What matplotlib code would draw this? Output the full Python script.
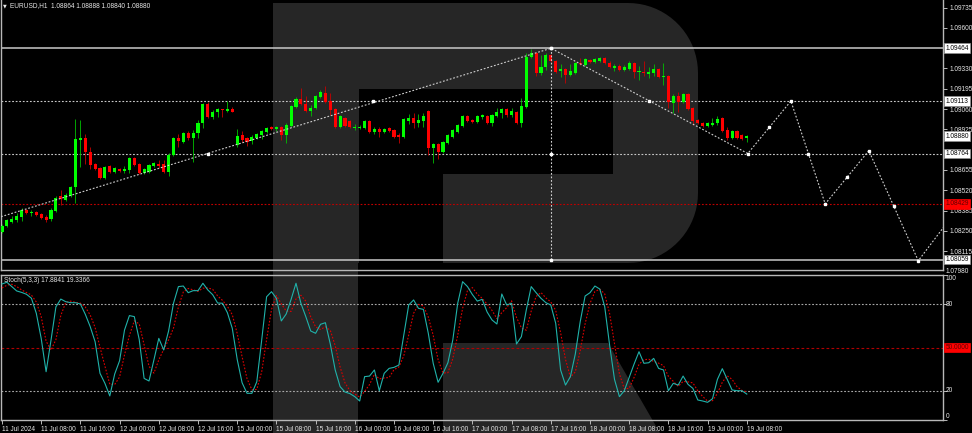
# -*- coding: utf-8 -*-

import numpy as np
import matplotlib.pyplot as plt
import matplotlib.transforms as mtransforms
from matplotlib.patches import Polygon, Rectangle

plt.rcParams['font.family'] = ['Liberation Sans', 'DejaVu Sans']

# ---------------------------- data ---------------------------- #

# EURUSD H1, one bar per hour, bar 0 = 11 Jul 2024 00:00
opens = [1.08242, 1.08282, 1.08309, 1.08322, 1.08342, 1.08388, 1.08369, 1.08375, 1.08362, 1.08342,
         1.08329, 1.08382, 1.08481, 1.08455, 1.08481, 1.08541, 1.08854, 1.08868, 1.08774, 1.08694,
         1.08668, 1.08601, 1.08681, 1.08641, 1.08661, 1.08648, 1.08655, 1.08734, 1.08694, 1.08635,
         1.08641, 1.08681, 1.08694, 1.08694, 1.08641, 1.08754, 1.08868, 1.08841, 1.08901, 1.08868,
         1.08901, 1.08967, 1.09093, 1.09007, 1.09040, 1.09060, 1.09047, 1.09060, 1.08821, 1.08887,
         1.08868, 1.08848, 1.08868, 1.08887, 1.08907, 1.08941, 1.08927, 1.08941, 1.08887, 1.08947,
         1.09073, 1.09127, 1.09093, 1.09047, 1.09067, 1.09140, 1.09167, 1.09113, 1.09060, 1.08941,
         1.09000, 1.08980, 1.08934, 1.08934, 1.08934, 1.08980, 1.08907, 1.08927, 1.08907, 1.08934,
         1.08921, 1.08887, 1.08874, 1.08980, 1.09000, 1.08967, 1.08980, 1.09047, 1.08801, 1.08828,
         1.08774, 1.08834, 1.08874, 1.08907, 1.08947, 1.09014, 1.08987, 1.08974, 1.09007, 1.09014,
         1.08967, 1.09014, 1.09034, 1.09060, 1.09020, 1.09040, 1.08967, 1.09073, 1.09406, 1.09433,
         1.09300, 1.09339, 1.09419, 1.09379, 1.09313, 1.09326, 1.09286, 1.09300, 1.09366, 1.09353,
         1.09386, 1.09373, 1.09379, 1.09399, 1.09366, 1.09333, 1.09346, 1.09320, 1.09326, 1.09366,
         1.09306, 1.09306, 1.09293, 1.09300, 1.09326, 1.09273, 1.09280, 1.09100, 1.09147, 1.09107,
         1.09160, 1.09067, 1.08987, 1.08967, 1.08947, 1.08954, 1.08967, 1.09000, 1.08921, 1.08868,
         1.08914, 1.08887, 1.08864]
highs = [1.08295, 1.08329, 1.08349, 1.08369, 1.08402, 1.08395, 1.08388, 1.08382, 1.08369, 1.08355,
         1.08402, 1.08481, 1.08521, 1.08501, 1.08548, 1.08994, 1.08987, 1.08894, 1.08808, 1.08701,
         1.08674, 1.08681, 1.08688, 1.08674, 1.08668, 1.08681, 1.08741, 1.08741, 1.08701, 1.08668,
         1.08694, 1.08708, 1.08721, 1.08721, 1.08768, 1.08874, 1.08894, 1.08907, 1.08914, 1.08921,
         1.08987, 1.09100, 1.09107, 1.09054, 1.09067, 1.09060, 1.09113, 1.09073, 1.08927, 1.08914,
         1.08874, 1.08887, 1.08901, 1.08921, 1.08941, 1.08947, 1.08947, 1.08947, 1.08967, 1.09087,
         1.09140, 1.09200, 1.09147, 1.09087, 1.09153, 1.09186, 1.09213, 1.09167, 1.09067, 1.09020,
         1.09007, 1.08987, 1.08961, 1.08954, 1.08987, 1.08987, 1.08941, 1.08941, 1.08934, 1.08941,
         1.08927, 1.08901, 1.09000, 1.09027, 1.09034, 1.09027, 1.09034, 1.09054, 1.08834, 1.08834,
         1.08848, 1.08894, 1.08927, 1.08961, 1.09020, 1.09020, 1.08994, 1.09020, 1.09027, 1.09020,
         1.09027, 1.09067, 1.09067, 1.09067, 1.09067, 1.09047, 1.09133, 1.09433, 1.09462, 1.09439,
         1.09419, 1.09433, 1.09426, 1.09386, 1.09359, 1.09333, 1.09359, 1.09373, 1.09399, 1.09399,
         1.09393, 1.09399, 1.09406, 1.09406, 1.09379, 1.09359, 1.09359, 1.09353, 1.09379, 1.09373,
         1.09346, 1.09379, 1.09339, 1.09359, 1.09333, 1.09366, 1.09286, 1.09160, 1.09173, 1.09167,
         1.09167, 1.09073, 1.08994, 1.08974, 1.08974, 1.09000, 1.09014, 1.09007, 1.08941, 1.08921,
         1.08921, 1.08894, 1.08888]
lows = [1.08236, 1.08275, 1.08302, 1.08309, 1.08315, 1.08362, 1.08349, 1.08349, 1.08329, 1.08309,
        1.08315, 1.08375, 1.08422, 1.08448, 1.08475, 1.08435, 1.08674, 1.08694, 1.08661, 1.08655,
        1.08595, 1.08595, 1.08635, 1.08635, 1.08641, 1.08635, 1.08635, 1.08681, 1.08628, 1.08628,
        1.08635, 1.08674, 1.08668, 1.08635, 1.08615, 1.08748, 1.08808, 1.08834, 1.08854, 1.08708,
        1.08868, 1.08934, 1.09000, 1.08994, 1.09007, 1.09007, 1.09040, 1.09040, 1.08808, 1.08841,
        1.08814, 1.08828, 1.08861, 1.08861, 1.08901, 1.08921, 1.08914, 1.08854, 1.08834, 1.08941,
        1.09067, 1.09087, 1.09040, 1.09014, 1.09060, 1.09133, 1.09100, 1.09020, 1.08934, 1.08934,
        1.08941, 1.08934, 1.08921, 1.08927, 1.08927, 1.08901, 1.08894, 1.08874, 1.08901, 1.08907,
        1.08868, 1.08834, 1.08868, 1.08961, 1.08934, 1.08941, 1.08941, 1.08754, 1.08701, 1.08728,
        1.08768, 1.08828, 1.08868, 1.08901, 1.08941, 1.08974, 1.08967, 1.08967, 1.08994, 1.08961,
        1.08947, 1.09007, 1.09000, 1.09007, 1.09007, 1.08961, 1.08941, 1.09067, 1.09399, 1.09280,
        1.09286, 1.09320, 1.09373, 1.09300, 1.09273, 1.09233, 1.09280, 1.09293, 1.09353, 1.09346,
        1.09366, 1.09366, 1.09373, 1.09359, 1.09333, 1.09313, 1.09313, 1.09313, 1.09320, 1.09266,
        1.09253, 1.09280, 1.09266, 1.09280, 1.09266, 1.09220, 1.09067, 1.09034, 1.09040, 1.09100,
        1.09054, 1.08954, 1.08961, 1.08941, 1.08941, 1.08947, 1.08954, 1.08907, 1.08854, 1.08861,
        1.08861, 1.08854, 1.08840]
closes = [1.08282, 1.08322, 1.08329, 1.08349, 1.08388, 1.08369, 1.08375, 1.08355, 1.08335, 1.08322,
          1.08388, 1.08468, 1.08462, 1.08488, 1.08541, 1.08861, 1.08868, 1.08774, 1.08688, 1.08661,
          1.08601, 1.08674, 1.08641, 1.08668, 1.08648, 1.08661, 1.08734, 1.08688, 1.08635, 1.08661,
          1.08688, 1.08701, 1.08681, 1.08641, 1.08754, 1.08868, 1.08848, 1.08901, 1.08868, 1.08901,
          1.08967, 1.09093, 1.09007, 1.09040, 1.09060, 1.09054, 1.09060, 1.09040, 1.08881, 1.08854,
          1.08841, 1.08874, 1.08894, 1.08914, 1.08934, 1.08927, 1.08941, 1.08887, 1.08954, 1.09080,
          1.09127, 1.09093, 1.09047, 1.09067, 1.09147, 1.09173, 1.09107, 1.09054, 1.08941, 1.09014,
          1.08947, 1.08941, 1.08941, 1.08941, 1.08980, 1.08907, 1.08927, 1.08907, 1.08927, 1.08914,
          1.08874, 1.08874, 1.08994, 1.09000, 1.08967, 1.08987, 1.09014, 1.08801, 1.08828, 1.08774,
          1.08841, 1.08887, 1.08921, 1.08954, 1.09014, 1.08980, 1.08974, 1.09014, 1.09020, 1.08967,
          1.09020, 1.09040, 1.09060, 1.09020, 1.09047, 1.08967, 1.09080, 1.09406, 1.09433, 1.09300,
          1.09339, 1.09419, 1.09379, 1.09306, 1.09326, 1.09286, 1.09313, 1.09366, 1.09359, 1.09393,
          1.09373, 1.09393, 1.09399, 1.09366, 1.09339, 1.09346, 1.09320, 1.09339, 1.09366, 1.09306,
          1.09313, 1.09300, 1.09306, 1.09326, 1.09273, 1.09280, 1.09107, 1.09147, 1.09107, 1.09160,
          1.09060, 1.08980, 1.08967, 1.08947, 1.08967, 1.08967, 1.08994, 1.08914, 1.08868, 1.08914,
          1.08868, 1.08861, 1.08880]

stoch_main = [93.8, 95.0, 92.0, 89.0, 88.0, 86.7, 84.0, 73.6, 56.3, 33.3,
              55.0, 78.0, 83.4, 81.6, 80.9, 80.9, 80.0, 72.9, 64.4, 54.0,
              32.2, 25.3, 16.6, 31.7, 40.9, 62.0, 72.0, 71.3, 55.6, 28.7,
              26.9, 41.4, 56.3, 48.3, 61.4, 80.5, 92.0, 92.4, 87.8, 89.2,
              89.2, 94.3, 89.7, 86.4, 80.7, 80.5, 74.0, 63.2, 41.8, 25.7,
              18.4, 18.4, 26.4, 55.2, 85.0, 88.5, 83.9, 68.3, 73.1, 83.2,
              94.3, 80.5, 71.3, 61.4, 59.8, 66.0, 67.1, 52.4, 34.5, 23.0,
              19.3, 18.2, 16.1, 13.1, 29.9, 30.3, 34.5, 20.2, 32.2, 35.6,
              36.3, 37.9, 58.6, 79.3, 82.8, 77.0, 76.3, 59.8, 39.1, 26.0,
              32.2, 39.5, 55.2, 80.5, 95.4, 92.0, 86.5, 82.0, 83.2, 74.5,
              69.0, 66.2, 86.9, 79.3, 80.5, 52.4, 57.5, 75.9, 92.0, 87.8,
              83.9, 80.9, 79.3, 66.7, 34.5, 24.1, 29.9, 45.5, 67.8, 85.5,
              87.8, 92.4, 90.3, 78.2, 51.7, 28.0, 16.1, 20.2, 29.4, 38.6,
              47.1, 39.1, 39.5, 42.5, 35.6, 34.5, 20.2, 25.3, 24.1, 30.3,
              24.6, 21.8, 13.8, 13.1, 12.2, 14.7, 28.0, 35.4, 28.0, 20.7,
              20.2, 20.2, 17.88]
stoch_signal = [91.0, 93.0, 93.6, 92.0, 89.7, 87.9, 86.2, 81.4, 71.3, 54.4,
                48.2, 55.4, 72.1, 81.0, 82.0, 81.1, 80.6, 77.9, 72.4, 63.8,
                50.2, 37.2, 24.7, 24.5, 29.7, 44.9, 58.3, 68.4, 66.3, 51.9,
                37.1, 32.3, 41.5, 48.7, 55.3, 63.4, 78.0, 88.3, 90.7, 89.8,
                88.7, 90.9, 91.1, 90.1, 85.6, 82.5, 78.4, 72.6, 59.7, 43.6,
                28.6, 20.8, 21.1, 33.3, 55.5, 76.2, 85.8, 80.2, 75.1, 74.9,
                83.5, 86.0, 82.0, 71.1, 64.2, 62.4, 64.3, 61.8, 51.3, 36.6,
                25.6, 20.2, 17.9, 15.8, 19.7, 24.4, 31.6, 28.3, 29.0, 29.3,
                34.7, 36.6, 44.3, 58.6, 73.6, 79.7, 78.7, 71.0, 58.4, 41.6,
                32.4, 32.6, 42.3, 58.4, 77.0, 89.3, 91.3, 86.8, 83.9, 79.9,
                75.6, 69.9, 74.0, 77.5, 82.2, 70.7, 63.5, 61.9, 75.1, 85.2,
                87.9, 84.2, 81.4, 75.6, 60.2, 41.8, 29.5, 33.2, 47.7, 66.3,
                80.4, 88.6, 90.2, 87.0, 73.4, 52.6, 31.9, 21.4, 21.9, 29.4,
                38.4, 41.6, 41.9, 40.4, 39.2, 37.5, 30.1, 26.7, 23.2, 26.6,
                26.3, 25.6, 20.1, 16.2, 13.0, 13.3, 18.3, 26.0, 30.5, 28.0,
                23.0, 20.4, 19.34]

time_ticks = [0, 8, 16, 24, 32, 40, 48, 56, 64, 72,
              80, 88, 96, 104, 112, 120, 128, 136, 144, 152]
time_labels = ['11 Jul 2024', '11 Jul 08:00', '11 Jul 16:00', '12 Jul 00:00', '12 Jul 08:00',
               '12 Jul 16:00', '15 Jul 00:00', '15 Jul 08:00', '15 Jul 16:00', '16 Jul 00:00',
               '16 Jul 08:00', '16 Jul 16:00', '17 Jul 00:00', '17 Jul 08:00', '17 Jul 16:00',
               '18 Jul 00:00', '18 Jul 08:00', '18 Jul 16:00', '19 Jul 00:00', '19 Jul 08:00']

price_ticks = [1.09735, 1.09600, 1.09330, 1.09195, 1.09060, 1.08925,
               1.08655, 1.08520, 1.08385, 1.08250, 1.08115]
price_bottom_label = 1.07980

# horizontal levels drawn on the chart
level_solid = [1.09464, 1.08059]
level_dotted = [1.09113, 1.08764]
level_red = 1.08429
current_price = 1.08880

# trend lines + forecast zigzag (bar index, price)
path_idx = [-0.2, 112.04, 152.2, 161.0, 168.0, 176.9, 187.0, 193.5]
path_price = [1.08344, 1.09464, 1.08764, 1.09113, 1.08429, 1.08783, 1.08051, 1.08332]
node_idx = [42.0, 75.7, 112.04, 132.0, 152.2, 156.6, 161.0, 164.5, 168.0, 172.5, 176.9, 182.0, 187.0]
node_price = [1.08764, 1.09113, 1.09464, 1.09113, 1.08764, 1.08938, 1.09113, 1.08764,
              1.08429, 1.08608, 1.08783, 1.08417, 1.08051]
vline_idx = 112.04
vline_nodes = [1.09464, 1.08764, 1.08059]

stoch_levels = [80, 20]

# ---------------------------- layout ---------------------------- #

W, H = 972, 433
BG = '#000000'
LOGO = '#262626'
AXC = '#b8b8b8'
TXT = '#e8e8e8'
FS = 4.7


def frac(x0, y0, x1, y1):
    return [x0 / W, 1 - y1 / H, (x1 - x0) / W, (y1 - y0) / H]


fig = plt.figure(figsize=(W / 100, H / 100), dpi=100, facecolor=BG)

# background logo
bg = fig.add_axes([0, 0, 1, 1])
bg.set_xlim(0, W)
bg.set_ylim(H, 0)
bg.axis('off')
r = 70
t1 = np.linspace(-np.pi / 2, 0, 20)
t2 = np.linspace(0, np.pi / 2, 20)
bowl = [(273, 3)]
bowl += list(zip(628 + r * np.cos(t1), 73 + r * np.sin(t1)))
bowl += list(zip(628 + r * np.cos(t2), 193 + r * np.sin(t2)))
bowl += [(273, 263)]
bg.add_patch(Polygon(bowl, closed=True, fc=LOGO, ec='none'))
bg.add_patch(Rectangle((359, 89), 254, 85, fc=BG, ec='none'))
bg.add_patch(Rectangle((359, 174), 84, 90, fc=BG, ec='none'))
bg.add_patch(Rectangle((273, 3), 85, 430, fc=LOGO, ec='none'))
bg.add_patch(Polygon([(443, 343), (608, 343), (660, 433), (443, 433)], closed=True, fc=LOGO, ec='none'))

# bar index -> pixel: x = 2 + 4.9 * i
x_lo, x_hi = -1 / 4.9, 941 / 4.9

ax = fig.add_axes(frac(1, 0, 943, 270))
ax.set_facecolor('none')
ax.set_xlim(x_lo, x_hi)
ax.set_ylim(1.09785 - 0.0000665 * 270, 1.09785)

ax2 = fig.add_axes(frac(1, 275, 943, 420))
ax2.set_facecolor('none')
ax2.set_xlim(x_lo, x_hi)
ax2.set_ylim(0, 100)

for a in (ax, ax2):
    for s in a.spines.values():
        s.set_color(AXC)
        s.set_linewidth(1.0)
ax.spines['top'].set_visible(False)

# ---------------------------- candles ---------------------------- #

idx = np.arange(len(closes))
o = np.array(opens)
c = np.array(closes)
hi = np.array(highs)
lo = np.array(lows)
up = c >= o
body_c = np.where(up, '#00ff00', '#ff0000')
wick_c = np.where(up, '#00c000', '#c80000')
ax.vlines(idx, lo, hi, colors=wick_c, lw=0.6, zorder=3)
body = np.maximum(np.abs(c - o), 0.00006)
ax.bar(idx, body, bottom=np.minimum(o, c), width=0.62, color=body_c, lw=0, zorder=4)

# levels
for p in level_solid:
    ax.axhline(p, color='#c8c8c8', lw=1.1, zorder=2)
for p in level_dotted:
    ax.axhline(p, color='#c8c8c8', lw=0.8, ls=(0, (1.6, 1.6)), zorder=2)
ax.axhline(level_red, color='#c00000', lw=0.8, ls=(0, (1.6, 1.6)), zorder=2)

ax.plot(path_idx, path_price, color='#d0d0d0', lw=0.8, ls=(0, (1.6, 1.6)), zorder=5)
ax.plot([vline_idx, vline_idx], [vline_nodes[0], vline_nodes[-1]], color='#d0d0d0',
        lw=0.8, ls=(0, (1.6, 1.6)), zorder=5)
ax.plot(node_idx, node_price, ls='none', marker='s', ms=2.0, color='white', zorder=6)
ax.plot([vline_idx] * len(vline_nodes), vline_nodes, ls='none', marker='s', ms=2.0,
        color='white', zorder=6)

# price axis
ax.set_xticks([])
ax.yaxis.tick_right()
ax.set_yticks(price_ticks)
ax.set_yticklabels(['%.5f' % p for p in price_ticks])
ax.tick_params(axis='y', colors=AXC, labelcolor=TXT, length=3, width=0.7, pad=1.5, labelsize=FS)

ytr = mtransforms.blended_transform_factory(ax.transAxes, ax.transData)
bx = 1 + 2.5 / 942
ax.text(bx, price_bottom_label, '%.5f' % price_bottom_label, transform=ytr, ha='left', va='center',
        fontsize=FS, color=TXT, clip_on=False)
for p in level_solid + level_dotted + [current_price]:
    ax.text(bx, p, '%.5f' % p, transform=ytr, ha='left', va='center', fontsize=FS, color='black',
            clip_on=False, zorder=10,
            bbox=dict(boxstyle='square,pad=0.2', fc='white', ec='#909090', lw=0.5))
ax.text(bx, level_red, '%.5f' % level_red, transform=ytr, ha='left', va='center', fontsize=FS,
        color='#600000', clip_on=False, zorder=10,
        bbox=dict(boxstyle='square,pad=0.2', fc='#ff0000', ec='#ff0000', lw=0.5))

# ---------------------------- stochastic ---------------------------- #

for lv in stoch_levels:
    ax2.axhline(lv, color='#a8a8a8', lw=0.8, ls=(0, (1.6, 1.6)), zorder=2)
ax2.axhline(50, color='#b00000', lw=0.8, ls=(0, (2.5, 2)), zorder=2)
ax2.plot(idx, stoch_main, color='#20b2aa', lw=0.8, zorder=4)
ax2.plot(idx, stoch_signal, color='#e00000', lw=0.8, ls=(0, (1.5, 1.5)), zorder=3)

ax2.yaxis.tick_right()
ax2.set_yticks([0, 20, 80, 100])
ax2.set_yticklabels([])
ax2.tick_params(axis='y', colors=AXC, length=3, width=0.7)
ytr2 = mtransforms.blended_transform_factory(ax2.transAxes, ax2.transData)
ax2.text(bx, 100, '100', transform=ytr2, ha='left', va='top', fontsize=FS, color=TXT, clip_on=False)
ax2.text(bx, 80, '80', transform=ytr2, ha='left', va='center', fontsize=FS, color=TXT, clip_on=False)
ax2.text(bx, 20, '20', transform=ytr2, ha='left', va='center', fontsize=FS, color=TXT, clip_on=False)
ax2.text(bx, 0, '0', transform=ytr2, ha='left', va='bottom', fontsize=FS, color=TXT, clip_on=False)
ax2.text(bx, 50, '50.0000', transform=ytr2, ha='left', va='center', fontsize=FS, color='#600000',
         clip_on=False, bbox=dict(boxstyle='square,pad=0.2', fc='#ff0000', ec='#ff0000', lw=0.5))

# time axis
ax2.set_xticks(time_ticks)
ax2.set_xticklabels(time_labels)
ax2.tick_params(axis='x', colors=AXC, labelcolor=TXT, length=3, width=0.7, pad=1, labelsize=FS)
for lbl in ax2.get_xticklabels():
    lbl.set_ha('left')

# captions
fig.text(3 / W, 1 - 5.5 / H, '\u25bc', fontsize=3.5, color=TXT, va='center', family='DejaVu Sans')
fig.text(10 / W, 1 - 5.5 / H, 'EURUSD,H1  %.5f %.5f %.5f %.5f' % (opens[-1], highs[-1], lows[-1], closes[-1]),
         fontsize=FS, color=TXT, va='center')
fig.text(4 / W, 1 - 281 / H, 'Stoch(5,3,3) %.4f %.4f' % (17.8841, 19.3366), fontsize=FS, color=TXT,
         va='center')

fig.savefig('out.png', dpi=100, facecolor=BG)
